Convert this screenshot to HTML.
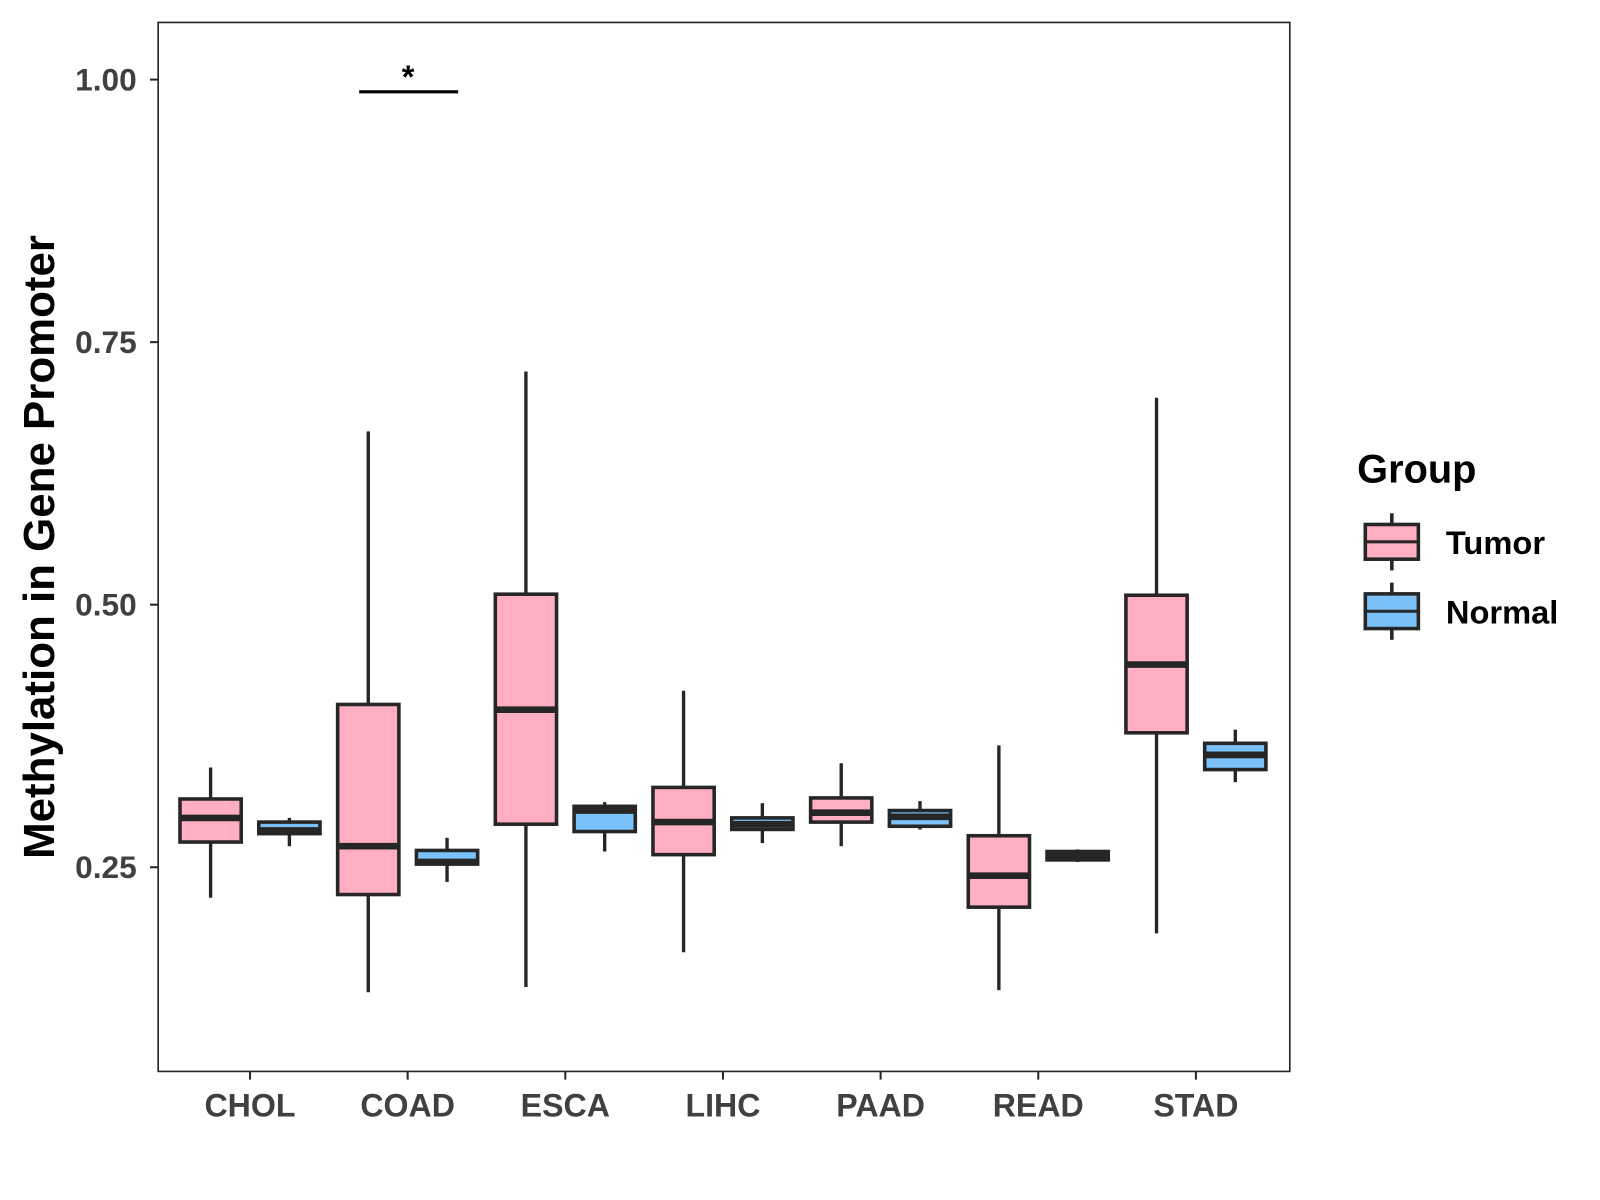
<!DOCTYPE html>
<html><head><meta charset="utf-8"><style>
html,body{margin:0;padding:0;background:#fff;}
svg{display:block;font-family:"Liberation Sans",Arial,sans-serif;}
</style></head><body>
<svg id="chart" width="1600" height="1200" viewBox="0 0 1568 1176" xmlns="http://www.w3.org/2000/svg">
<rect width="1568" height="1176" fill="#fff"/>
<g id="marks"></g>
<rect x="155" y="22" width="1109" height="1028" fill="none" stroke="#262626" stroke-width="1.6"/>
<g id="axes"></g>
<text transform="translate(53,536) rotate(-90)" text-anchor="middle" font-size="43" font-weight="bold" fill="#000">Methylation in Gene Promoter</text>
<line x1="352" y1="90" x2="449" y2="90" stroke="#000" stroke-width="3"/>
<text x="400" y="86" text-anchor="middle" font-size="32" font-weight="bold">*</text>
<g>
<text x="1330" y="473" font-size="39" font-weight="bold">Group</text>
<g>
<line x1="1364" y1="503" x2="1364" y2="559" stroke="#262626" stroke-width="3.5"/>
<rect x="1338" y="514" width="52" height="34" fill="#FFAFC1" stroke="#262626" stroke-width="3.5"/>
<line x1="1338" y1="531" x2="1390" y2="531" stroke="#262626" stroke-width="3"/>
<text x="1417" y="543" font-size="32" font-weight="bold">Tumor</text>
</g>
<g>
<line x1="1364" y1="571" x2="1364" y2="627" stroke="#262626" stroke-width="3.5"/>
<rect x="1338" y="582" width="52" height="34" fill="#79C1F8" stroke="#262626" stroke-width="3.5"/>
<line x1="1338" y1="599" x2="1390" y2="599" stroke="#262626" stroke-width="3"/>
<text x="1417" y="611" font-size="32" font-weight="bold">Normal</text>
</g>
</g>
</svg>
<script>
const categories = ["CHOL","COAD","ESCA","LIHC","PAAD","READ","STAD"];
const tumorLow =  [0.221,0.131,0.136,0.169,0.270,0.133,0.187];
const tumorQ1 =   [0.274,0.224,0.291,0.262,0.293,0.212,0.378];
const tumorMed =  [0.297,0.270,0.400,0.293,0.302,0.242,0.443];
const tumorQ3 =   [0.315,0.405,0.510,0.326,0.316,0.280,0.509];
const tumorHigh = [0.345,0.665,0.722,0.418,0.349,0.366,0.697];
const normalLow =  [0.270,0.236,0.265,0.273,0.286,0.255,0.331];
const normalQ1 =   [0.282,0.253,0.284,0.286,0.289,0.257,0.343];
const normalMed =  [0.285,0.255,0.304,0.291,0.298,0.261,0.357];
const normalQ3 =   [0.293,0.266,0.308,0.297,0.304,0.265,0.368];
const normalHigh = [0.297,0.278,0.312,0.311,0.313,0.267,0.381];
const yTicks = [0.25,0.50,0.75,1.00];
const yTickLabels = ["0.25","0.50","0.75","1.00"];

const NS="http://www.w3.org/2000/svg";
function y(v){ return 78 + (1 - v) * 1029.2; }
function x(i){ return 245 + i * 154.5; }
function mk(tag, attrs, parent){ const e=document.createElementNS(NS,tag); for(const k in attrs) e.setAttribute(k,attrs[k]); parent.appendChild(e); return e; }
const marks=document.getElementById('marks'), axes=document.getElementById('axes');
const S="#262626", HW=30;
function box(cx, lo, q1, md, q3, hi, fill, name){
  const g=mk('g',{},marks);
  
  
  mk('line',{x1:cx,x2:cx,y1:y(hi),y2:y(lo),stroke:S,'stroke-width':3.3},g);
  mk('rect',{x:cx-HW,y:y(q3),width:2*HW,height:y(q1)-y(q3),fill:fill,stroke:S,'stroke-width':3.5},g);
  mk('line',{x1:cx-HW,x2:cx+HW,y1:y(md),y2:y(md),stroke:S,'stroke-width':6.5},g);
}
categories.forEach((c,i)=>{
  box(x(i)-38.6, tumorLow[i], tumorQ1[i], tumorMed[i], tumorQ3[i], tumorHigh[i], "#FFAFC1", "box-tumor-"+c.toLowerCase());
  box(x(i)+38.6, normalLow[i], normalQ1[i], normalMed[i], normalQ3[i], normalHigh[i], "#79C1F8", "box-normal-"+c.toLowerCase());
  const t=mk('line',{x1:x(i),x2:x(i),y1:1050,y2:1058,stroke:S,'stroke-width':2},axes);
  
  
  const l=mk('text',{x:x(i),y:1094,'text-anchor':'middle','font-size':31.5,'font-weight':'bold',fill:'#404040'},axes);
  l.textContent=c;
  
  
});
yTicks.forEach((v,i)=>{
  const t=mk('line',{x1:147,x2:155,y1:y(v),y2:y(v),stroke:S,'stroke-width':2},axes);
  
  
  const l=mk('text',{x:134,y:y(v)+10.5,'text-anchor':'end','font-size':31,'font-weight':'bold',fill:'#404040'},axes);
  l.textContent=yTickLabels[i];
  
  
});
</script>
</body></html>
